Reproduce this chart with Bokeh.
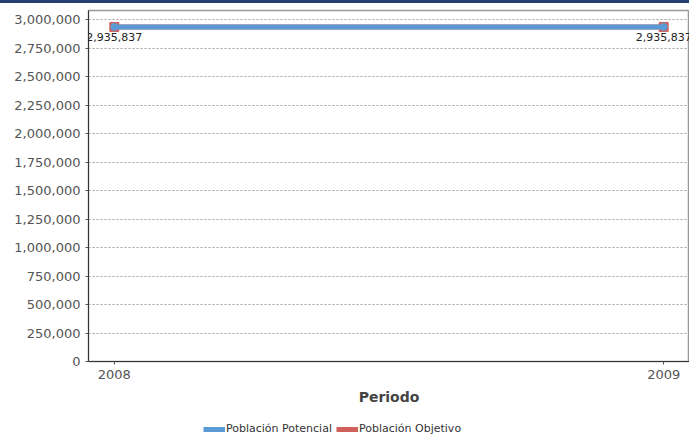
from bokeh.plotting import figure
from bokeh.layouts import column
from bokeh.core.properties import value
from bokeh.models import (ColumnDataSource, FixedTicker, NumeralTickFormatter, Legend,
                          LegendItem, Range1d, LabelSet, Div)
from bokeh.embed import file_html
from bokeh.resources import INLINE

years = [2008, 2009]
poblacion_potencial = [2935837, 2935837]
poblacion_objetivo = [2935837, 2935837]
y_ticks = [0, 250000, 500000, 750000, 1000000, 1250000, 1500000, 1750000,
           2000000, 2250000, 2500000, 2750000, 3000000]
x_ticks = [2008, 2009]
series_names = ["Población Potencial", "Población Objetivo"]

BLUE = "#5b9bd5"
RED = "#d0605b"
FONT = "DejaVu Sans"

top_bar = Div(text="", width=689, height=3, margin=0,
              styles={"background-color": "#243f73", "width": "689px", "height": "3px"})

p = figure(width=689, height=407, output_backend="svg", toolbar_location=None,
           x_range=Range1d(2007.953, 2009.047), y_range=Range1d(0, 3080000),
           min_border_left=88, min_border_right=0, min_border_top=7, min_border_bottom=49)

src_o = ColumnDataSource(dict(x=years, y=poblacion_objetivo))
src_p = ColumnDataSource(dict(x=years, y=poblacion_potencial,
                              lbl=["{:,}".format(v) for v in poblacion_potencial]))

p.line("x", "y", source=src_o, line_color=RED, line_width=5)
p.scatter("x", "y", source=src_o, marker="square", size=9, fill_color=RED, line_color=RED)
p.line("x", "y", source=src_p, line_color=BLUE, line_width=5)
p.scatter("x", "y", source=src_p, marker="circle", size=7, fill_color=BLUE, line_color=BLUE)

labels = LabelSet(x="x", y="y", text="lbl", source=src_p, y_offset=-6,
                  text_align="center", text_baseline="top",
                  text_font=value(FONT), text_font_size=value("11px"),
                  text_color="#222222")
p.add_layout(labels)

p.yaxis.ticker = FixedTicker(ticks=y_ticks)
p.yaxis.formatter = NumeralTickFormatter(format="0,0")
p.xaxis.ticker = FixedTicker(ticks=x_ticks)
for ax in (p.xaxis[0], p.yaxis[0]):
    ax.major_label_text_font = FONT
    ax.major_label_text_font_size = "13px"
    ax.major_label_text_color = "#555555"
    ax.axis_line_color = "#333333"
    ax.major_tick_line_color = "#555555"
    ax.major_tick_in = 0
    ax.major_tick_out = 3
    ax.minor_tick_line_color = None
p.yaxis.major_label_standoff = 5
p.xaxis.major_label_standoff = 5
p.xaxis.axis_label = "Periodo"
p.xaxis.axis_label_text_font = FONT
p.xaxis.axis_label_text_font_style = "bold"
p.xaxis.axis_label_text_font_size = "14px"
p.xaxis.axis_label_text_color = "#444444"
p.xaxis.axis_label_standoff = 7

p.xgrid.grid_line_color = None
p.ygrid.grid_line_color = "#a0a0a0"
p.ygrid.grid_line_dash = "2 2"
p.ygrid.grid_line_width = 1

p.outline_line_color = "#999999"
p.outline_line_width = 1.5

# legend strip below the chart (its renderers draw the same series off-screen)
lg = figure(width=689, height=25, output_backend="svg", toolbar_location=None,
            x_range=Range1d(0, 1), y_range=Range1d(0, 1),
            min_border_left=0, min_border_right=0, min_border_top=0, min_border_bottom=0)
lg.axis.visible = False
lg.grid.visible = False
lg.outline_line_color = None
lp_line = lg.line("x", "y", source=src_p, line_color=BLUE, line_width=5)
lp_mark = lg.scatter("x", "y", source=src_p, marker="circle", size=7,
                     fill_color=BLUE, line_color=BLUE)
lo_line = lg.line("x", "y", source=src_o, line_color=RED, line_width=5)
lo_mark = lg.scatter("x", "y", source=src_o, marker="square", size=8,
                     fill_color=RED, line_color=RED)

legend = Legend(items=[
    LegendItem(label=series_names[0], renderers=[lp_line, lp_mark]),
    LegendItem(label=series_names[1], renderers=[lo_line, lo_mark]),
], orientation="horizontal", location=(115, 0),
    label_text_font=FONT, label_text_font_size="11px", label_text_color="#333333",
    glyph_width=22, glyph_height=10, label_standoff=1, spacing=4,
    padding=2, margin=0, border_line_color=None, background_fill_alpha=0)
lg.add_layout(legend)

layout = column(top_bar, p, lg, spacing=0)
open("out.html", "w").write(file_html(layout, INLINE))
